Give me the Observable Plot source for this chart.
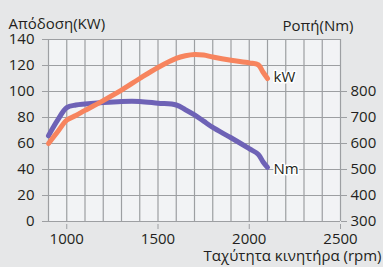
<!DOCTYPE html>
<html><head><meta charset="utf-8">
<script src="https://cdn.jsdelivr.net/npm/d3@7"></script>
<script src="https://cdn.jsdelivr.net/npm/@observablehq/plot@0.6"></script>
<style>
html,body{margin:0;padding:0;background:#e6e7e8;}
#chart{width:383px;height:267px;overflow:hidden;}
</style></head>
<body><div id="chart"></div>
<script>
// rpm values
const rpm = [900, 950, 1000, 1050, 1100, 1200, 1300, 1400, 1500, 1600, 1650, 1700, 1750, 1800, 1900, 2000, 2050, 2075, 2100];
// power (kW)
const powerKW = [60, 69, 78, 81.5, 85.5, 93, 101, 110, 118.5, 125.5, 127.5, 128.5, 128, 126.5, 124, 122, 120.5, 115, 110];
// torque (Nm)
const torqueNm = [630, 690, 738, 748, 752, 758, 762, 762, 755, 748, 730, 710, 686, 662, 622, 580, 558, 530, 508];

const xTicks = [1000, 1500, 2000, 2500];
const yLeftTicks = [0, 20, 40, 60, 80, 100, 120, 140];
const yRightTicks = [300, 400, 500, 600, 700, 800];
const titleLeft = "Απόδοση(KW)";
const titleRight = "Ροπή(Nm)";
const titleX = "Ταχύτητα κινητήρα (rpm)";
const seriesLabels = ["kW", "Nm"];

// torque mapped on the left scale: Nm = 300 + 5 * left
const toLeft = nm => (nm - 300) / 5;
const powerData = rpm.map((r, i) => ({rpm: r, v: powerKW[i]}));
const torqueData = rpm.map((r, i) => ({rpm: r, v: toLeft(torqueNm[i])}));

const gridColor = "#9d9fa2";
const textColor = "#231f20";
const orange = "#f7845e";
const purple = "#6e62b6";

const chart = Plot.plot({
  width: 383,
  height: 267,
  marginLeft: 48,
  marginRight: 43,
  marginTop: 39,
  marginBottom: 46,
  style: {fontFamily: "'Open Sans', sans-serif", fontSize: "15px", color: textColor, background: "transparent"},
  x: {domain: [900, 2500]},
  y: {domain: [0, 140]},
  marks: [
    Plot.frame({fill: "#f2f3f5", stroke: null}),
    Plot.gridX(d3.range(900, 2501, 100), {stroke: gridColor, strokeOpacity: 1, strokeWidth: 1.2}),
    Plot.gridY(yLeftTicks, {stroke: gridColor, strokeOpacity: 1, strokeWidth: 1.2}),
    Plot.axisY(yLeftTicks, {anchor: "left", label: null, tickSize: 6, tickPadding: 8, stroke: gridColor, fill: textColor}),
    Plot.axisY(yRightTicks.map(toLeft), {anchor: "right", label: null, tickSize: 6, tickPadding: 4, stroke: gridColor, fill: textColor, tickFormat: d => String(300 + 5 * d)}),
    Plot.axisX(xTicks, {label: null, tickSize: 5, tickPadding: 4, dy: 3, stroke: gridColor, fill: textColor, tickFormat: d => String(d)}),
    Plot.line(torqueData, {x: "rpm", y: "v", stroke: purple, strokeWidth: 5, curve: "catmull-rom"}),
    Plot.line(powerData, {x: "rpm", y: "v", stroke: orange, strokeWidth: 5, curve: "catmull-rom"}),
    Plot.text([powerData[powerData.length - 1]], {x: "rpm", y: "v", text: () => seriesLabels[0], textAnchor: "start", dx: 6, dy: -1, fill: textColor, stroke: "white", strokeWidth: 3}),
    Plot.text([torqueData[torqueData.length - 1]], {x: "rpm", y: "v", text: () => seriesLabels[1], textAnchor: "start", dx: 6, dy: 2, fill: textColor, stroke: "white", strokeWidth: 3}),
    Plot.text([titleLeft], {frameAnchor: "top-left", text: d => d, textAnchor: "start", dx: -40, dy: -21, fill: textColor}),
    Plot.text([titleRight], {frameAnchor: "top-right", text: d => d, textAnchor: "end", dx: 13, dy: -19, fill: textColor}),
    Plot.text([titleX], {frameAnchor: "bottom-right", text: d => d, textAnchor: "end", dx: 41, dy: 39, fill: textColor})
  ]
});
document.getElementById("chart").appendChild(chart);
</script>
</body></html>
